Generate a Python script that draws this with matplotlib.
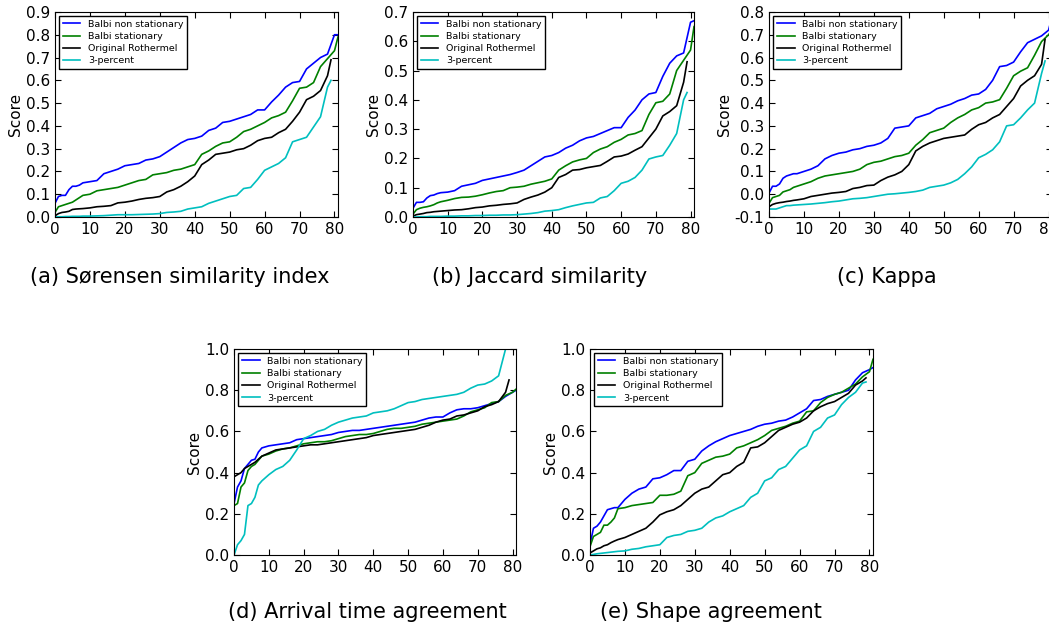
import numpy as np
import matplotlib
matplotlib.use('Agg')
import matplotlib.pyplot as plt

# score curves, sorted per method; indices 0..8 step 1, then step 2
x_long = list(range(0, 9)) + list(range(10, 81, 2)) + [81]
x_short = list(range(0, 9)) + list(range(10, 79, 2)) + [79]

labels = ['Balbi non stationary', 'Balbi stationary', 'Original Rothermel', '3-percent']
colors = ['b', 'g', 'k', 'c']

# (a) Sorensen similarity index
sor_bns = [0.06, 0.09, 0.095, 0.095, 0.12, 0.135, 0.135, 0.14, 0.15,
           0.155, 0.16, 0.19, 0.20, 0.21, 0.225, 0.23, 0.235, 0.25, 0.255,
           0.265, 0.285, 0.305, 0.325, 0.34, 0.345, 0.355, 0.38, 0.39, 0.415,
           0.42, 0.43, 0.44, 0.45, 0.47, 0.47, 0.505, 0.535, 0.57, 0.59,
           0.595, 0.65, 0.675, 0.70, 0.715, 0.80, 0.80]
sor_bs = [0.02, 0.045, 0.05, 0.055, 0.06, 0.065, 0.075, 0.085, 0.095,
          0.10, 0.115, 0.12, 0.125, 0.13, 0.14, 0.15, 0.16, 0.165, 0.185,
          0.19, 0.195, 0.205, 0.21, 0.22, 0.23, 0.275, 0.29, 0.31, 0.325,
          0.33, 0.35, 0.375, 0.385, 0.40, 0.415, 0.435, 0.445, 0.46, 0.51,
          0.565, 0.57, 0.59, 0.66, 0.695, 0.73, 0.79]
sor_rot = [0.005, 0.015, 0.02, 0.022, 0.025, 0.033, 0.035, 0.036, 0.037,
           0.04, 0.045, 0.047, 0.05, 0.062, 0.065, 0.07, 0.077, 0.082, 0.085,
           0.09, 0.11, 0.12, 0.135, 0.155, 0.18, 0.23, 0.25, 0.275, 0.28,
           0.285, 0.295, 0.30, 0.315, 0.335, 0.345, 0.35, 0.37, 0.385, 0.42,
           0.46, 0.515, 0.53, 0.555, 0.62, 0.69]
sor_3p = [0.0, 0.001, 0.001, 0.002, 0.002, 0.003, 0.003, 0.003, 0.004,
          0.004, 0.005, 0.006, 0.008, 0.01, 0.01, 0.01, 0.011, 0.012, 0.013,
          0.015, 0.02, 0.022, 0.025, 0.035, 0.04, 0.045, 0.06, 0.07, 0.08,
          0.09, 0.095, 0.125, 0.13, 0.165, 0.205, 0.22, 0.235, 0.26, 0.33,
          0.34, 0.35, 0.395, 0.44, 0.57, 0.60]

# (b) Jaccard similarity
jac_bns = [0.03, 0.05, 0.05, 0.052, 0.065, 0.073, 0.075, 0.08, 0.083,
           0.085, 0.09, 0.105, 0.11, 0.115, 0.125, 0.13, 0.135, 0.14, 0.145,
           0.152, 0.16, 0.175, 0.19, 0.205, 0.21, 0.22, 0.235, 0.245, 0.26,
           0.27, 0.275, 0.285, 0.295, 0.305, 0.305, 0.34, 0.365, 0.40, 0.42,
           0.425, 0.48, 0.525, 0.55, 0.56, 0.665, 0.67]
jac_bs = [0.01, 0.025, 0.03, 0.033, 0.035, 0.038, 0.042, 0.048, 0.052,
          0.057, 0.063, 0.067, 0.068, 0.071, 0.076, 0.082, 0.087, 0.09, 0.10,
          0.102, 0.105, 0.112, 0.117, 0.122, 0.13, 0.16, 0.175, 0.188, 0.195,
          0.20, 0.22, 0.232, 0.24, 0.255, 0.265, 0.28, 0.285, 0.295, 0.35,
          0.39, 0.395, 0.42, 0.50, 0.535, 0.57, 0.65]
jac_rot = [0.003, 0.008, 0.01, 0.012, 0.015, 0.016, 0.018, 0.019, 0.02,
           0.022, 0.024, 0.025, 0.028, 0.032, 0.034, 0.038, 0.04, 0.043, 0.045,
           0.048, 0.06, 0.068, 0.075, 0.085, 0.10, 0.135, 0.145, 0.16, 0.162,
           0.168, 0.172, 0.176, 0.19, 0.205, 0.208, 0.215, 0.228, 0.24, 0.27,
           0.30, 0.345, 0.36, 0.38, 0.46, 0.53]
jac_3p = [0.0, 0.0, 0.001, 0.001, 0.001, 0.002, 0.002, 0.002, 0.002,
          0.003, 0.003, 0.004, 0.004, 0.005, 0.005, 0.006, 0.006, 0.007, 0.007,
          0.008, 0.01, 0.012, 0.015, 0.02, 0.022, 0.025, 0.032, 0.038, 0.043,
          0.048, 0.05, 0.065, 0.07, 0.09, 0.115, 0.122, 0.135, 0.16, 0.198,
          0.205, 0.21, 0.245, 0.285, 0.40, 0.425]

# (c) Kappa
kap_bns = [0.005, 0.035, 0.035, 0.045, 0.07, 0.08, 0.085, 0.09, 0.09,
           0.10, 0.11, 0.125, 0.155, 0.17, 0.18, 0.185, 0.195, 0.20, 0.21,
           0.215, 0.225, 0.245, 0.29, 0.295, 0.30, 0.335, 0.345, 0.355, 0.375,
           0.385, 0.395, 0.41, 0.42, 0.435, 0.44, 0.46, 0.50, 0.56, 0.565,
           0.58, 0.625, 0.665, 0.68, 0.695, 0.72, 0.78]
kap_bs = [-0.04, -0.015, -0.01, -0.005, 0.01, 0.015, 0.02, 0.03, 0.035,
          0.045, 0.055, 0.07, 0.08, 0.085, 0.09, 0.095, 0.10, 0.11, 0.13,
          0.14, 0.145, 0.155, 0.165, 0.17, 0.18, 0.215, 0.24, 0.27, 0.28,
          0.29, 0.315, 0.335, 0.35, 0.37, 0.38, 0.40, 0.405, 0.415, 0.465,
          0.52, 0.54, 0.555, 0.61, 0.67, 0.70, 0.72]
kap_rot = [-0.055, -0.045, -0.04, -0.037, -0.035, -0.032, -0.03, -0.027, -0.025,
           -0.02, -0.01, -0.005, 0.0, 0.005, 0.008, 0.012, 0.025, 0.03, 0.038,
           0.04, 0.06, 0.075, 0.085, 0.10, 0.13, 0.19, 0.21, 0.225, 0.235,
           0.245, 0.25, 0.255, 0.26, 0.285, 0.305, 0.315, 0.335, 0.35, 0.385,
           0.42, 0.475, 0.50, 0.52, 0.57, 0.68]
kap_3p = [-0.065, -0.065, -0.065, -0.06, -0.055, -0.05, -0.05, -0.048, -0.047,
          -0.045, -0.043, -0.04, -0.037, -0.033, -0.03, -0.025, -0.02, -0.018, -0.015,
          -0.01, -0.005, 0.0, 0.002, 0.005, 0.008, 0.012, 0.018, 0.03, 0.035,
          0.04, 0.05, 0.065, 0.09, 0.12, 0.16, 0.175, 0.195, 0.23, 0.30,
          0.305, 0.335, 0.37, 0.40, 0.53, 0.585]

# (d) Arrival time agreement
arr_bns = [0.25, 0.33, 0.36, 0.42, 0.44, 0.46, 0.465, 0.50, 0.52,
           0.53, 0.535, 0.54, 0.545, 0.56, 0.565, 0.57, 0.575, 0.58, 0.585,
           0.595, 0.60, 0.605, 0.605, 0.61, 0.615, 0.62, 0.625, 0.63, 0.635,
           0.64, 0.645, 0.655, 0.665, 0.67, 0.67, 0.69, 0.705, 0.71, 0.71,
           0.715, 0.725, 0.735, 0.745, 0.77, 0.79, 0.80]
arr_bs = [0.24, 0.25, 0.33, 0.35, 0.41, 0.43, 0.44, 0.46, 0.48,
          0.49, 0.505, 0.515, 0.52, 0.53, 0.54, 0.545, 0.55, 0.55, 0.555,
          0.565, 0.575, 0.58, 0.585, 0.585, 0.59, 0.60, 0.61, 0.615, 0.615,
          0.62, 0.625, 0.635, 0.64, 0.645, 0.65, 0.655, 0.66, 0.675, 0.695,
          0.705, 0.715, 0.74, 0.745, 0.775, 0.79, 0.805]
arr_rot = [0.38, 0.39, 0.40, 0.42, 0.43, 0.44, 0.45, 0.465, 0.48,
           0.495, 0.51, 0.515, 0.52, 0.525, 0.53, 0.535, 0.535, 0.54, 0.545,
           0.55, 0.555, 0.56, 0.565, 0.57, 0.58, 0.585, 0.59, 0.595, 0.60,
           0.605, 0.61, 0.62, 0.63, 0.645, 0.655, 0.66, 0.675, 0.68, 0.69,
           0.70, 0.72, 0.73, 0.745, 0.79, 0.85]
arr_3p = [0.0, 0.05, 0.07, 0.10, 0.24, 0.25, 0.28, 0.34, 0.36,
          0.39, 0.415, 0.43, 0.46, 0.51, 0.565, 0.58, 0.60, 0.61, 0.63,
          0.645, 0.655, 0.665, 0.67, 0.675, 0.69, 0.695, 0.70, 0.71, 0.725,
          0.74, 0.745, 0.755, 0.76, 0.765, 0.77, 0.775, 0.78, 0.79, 0.81,
          0.825, 0.83, 0.845, 0.87, 1.0, 1.0]

# (e) Shape agreement
shp_bns = [0.05, 0.13, 0.14, 0.16, 0.19, 0.22, 0.225, 0.23, 0.23,
           0.27, 0.30, 0.32, 0.33, 0.37, 0.375, 0.39, 0.41, 0.41, 0.455,
           0.465, 0.505, 0.53, 0.55, 0.565, 0.58, 0.59, 0.60, 0.61, 0.625,
           0.635, 0.64, 0.65, 0.655, 0.67, 0.69, 0.71, 0.75, 0.755, 0.77,
           0.78, 0.79, 0.80, 0.85, 0.885, 0.90, 0.91]
shp_bs = [0.04, 0.09, 0.10, 0.11, 0.145, 0.145, 0.16, 0.18, 0.225,
          0.23, 0.24, 0.245, 0.25, 0.255, 0.29, 0.29, 0.295, 0.31, 0.385,
          0.40, 0.445, 0.46, 0.475, 0.48, 0.49, 0.52, 0.53, 0.545, 0.56,
          0.58, 0.605, 0.615, 0.625, 0.64, 0.65, 0.695, 0.70, 0.74, 0.765,
          0.78, 0.79, 0.81, 0.83, 0.865, 0.89, 0.95]
shp_rot = [0.01, 0.02, 0.03, 0.035, 0.045, 0.05, 0.06, 0.068, 0.075,
           0.085, 0.10, 0.115, 0.13, 0.16, 0.195, 0.21, 0.22, 0.24, 0.27,
           0.30, 0.32, 0.33, 0.36, 0.39, 0.40, 0.43, 0.45, 0.52, 0.525,
           0.545, 0.575, 0.605, 0.62, 0.635, 0.645, 0.665, 0.70, 0.72, 0.735,
           0.745, 0.765, 0.785, 0.825, 0.845, 0.86]
shp_3p = [0.0, 0.003, 0.006, 0.008, 0.01, 0.012, 0.014, 0.016, 0.018,
          0.02, 0.028, 0.032, 0.04, 0.045, 0.05, 0.085, 0.095, 0.10, 0.115,
          0.12, 0.13, 0.16, 0.18, 0.19, 0.21, 0.225, 0.24, 0.28, 0.30,
          0.36, 0.375, 0.415, 0.43, 0.47, 0.51, 0.53, 0.60, 0.62, 0.665,
          0.68, 0.73, 0.765, 0.79, 0.835, 0.84]

matplotlib.rcParams['font.family'] = 'DejaVu Sans'
matplotlib.rcParams['xtick.direction'] = 'in'
matplotlib.rcParams['ytick.direction'] = 'in'
matplotlib.rcParams['xtick.top'] = True
matplotlib.rcParams['ytick.right'] = True
matplotlib.rcParams['xtick.major.size'] = 4
matplotlib.rcParams['ytick.major.size'] = 4
matplotlib.rcParams['xtick.labelsize'] = 11
matplotlib.rcParams['ytick.labelsize'] = 11

panels = [
  ([0.0524, 0.655, 0.2698, 0.326], [sor_bns, sor_bs, sor_rot, sor_3p], (0, 0.9), 0.1,
   '(a) Sørensen similarity index', (180, 277)),
  ([0.3937, 0.655, 0.2679, 0.326], [jac_bns, jac_bs, jac_rot, jac_3p], (0, 0.7), 0.1,
   '(b) Jaccard similarity', (540, 277)),
  ([0.7331, 0.655, 0.2698, 0.326], [kap_bns, kap_bs, kap_rot, kap_3p], (-0.1, 0.8), 0.1,
   '(c) Kappa', (887, 277)),
  ([0.2231, 0.1176, 0.2688, 0.3275], [arr_bns, arr_bs, arr_rot, arr_3p], (0, 1.0), 0.2,
   '(d) Arrival time agreement', (367, 612)),
  ([0.5624, 0.1176, 0.2698, 0.3275], [shp_bns, shp_bs, shp_rot, shp_3p], (0, 1.0), 0.2,
   '(e) Shape agreement', (711, 612)),
]

fig = plt.figure(figsize=(10.49, 6.29), dpi=100)

for rect, series, ylim, ystep, caption, cpos in panels:
  ax = fig.add_axes(rect)
  for k, ys in enumerate(series):
    xs = x_long if len(ys) == len(x_long) else x_short
    ax.plot(xs, ys, color=colors[k], lw=1.2, label=labels[k])
  ax.set_xlim(0, 81)
  ax.set_ylim(*ylim)
  ax.set_xticks(np.arange(0, 81, 10))
  ax.set_yticks(np.arange(ylim[0], ylim[1] + 1e-9, ystep))
  ax.yaxis.set_major_formatter(matplotlib.ticker.FormatStrFormatter('%.1f'))
  ax.set_ylabel('Score', fontsize=11, labelpad=2)
  leg = ax.legend(loc='upper left', fontsize=6.8, fancybox=False, framealpha=1,
                  handlelength=1.9, labelspacing=0.35, borderaxespad=0.4)
  leg.get_frame().set_edgecolor('k')
  fig.text(cpos[0] / 1049.0, 1 - cpos[1] / 629.0, caption, fontsize=15,
           ha='center', va='center')

plt.savefig('out.png', dpi=100)
